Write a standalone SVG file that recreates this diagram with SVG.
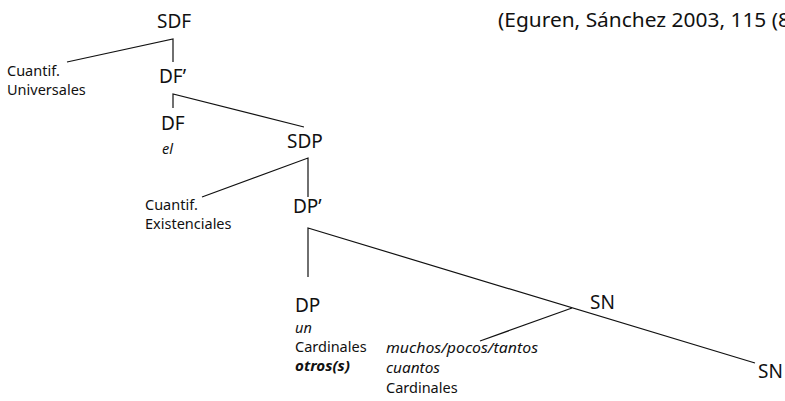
<svg xmlns="http://www.w3.org/2000/svg" width="785" height="401" viewBox="0 0 785 401">
<style>
text{font-family:"Noto Sans","Open Sans","Liberation Sans",sans-serif;fill:#111}
.n{font-size:19px}
.s{font-size:14.5px}
.i{font-style:italic}
.b{font-weight:bold}
.c{font-size:20px}
#edges path{fill:none;stroke:#111;stroke-width:1.2}
</style>
<rect width="785" height="401" fill="#fff"/>
<g id="edges">
<path d="M67 62 L173 39 L173 62"/>
<path d="M173 108 L173 94 L304 127"/>
<path d="M202 197 L308 158 L308 197"/>
<path d="M308 277 L308 228 L755 363"/>
<path d="M480 341 L572 308"/>
</g>
<g id="citation"><text class="c" x="498" y="27" textLength="292" lengthAdjust="spacingAndGlyphs">(Eguren, Sánchez 2003, 115 (8</text></g>
<g id="SDF"><text class="n" x="157" y="28">SDF</text></g>
<g id="univ"><text class="s" x="7" y="76">Cuantif.</text><text class="s" x="7" y="95">Universales</text></g>
<g id="DFbar"><text class="n" x="159" y="83">DF’</text></g>
<g id="DF"><text class="n" x="161" y="130">DF</text><text class="s i" x="162" y="154">el</text></g>
<g id="SDP"><text class="n" x="287" y="148">SDP</text></g>
<g id="exist"><text class="s" x="145" y="210">Cuantif.</text><text class="s" x="145" y="229">Existenciales</text></g>
<g id="DPbar"><text class="n" x="293" y="213">DP’</text></g>
<g id="DP"><text class="n" x="295" y="312">DP</text><text class="s i" x="295" y="333">un</text><text class="s" x="295" y="352">Cardinales</text><text class="s i b" x="295" y="371" textLength="55" lengthAdjust="spacingAndGlyphs">otros(s)</text></g>
<g id="SN"><text class="n" x="590" y="309">SN</text></g>
<g id="SNspec"><text class="s i" x="386" y="353" textLength="152" lengthAdjust="spacingAndGlyphs">muchos/pocos/tantos</text><text class="s i" x="386" y="373" textLength="54" lengthAdjust="spacingAndGlyphs">cuantos</text><text class="s" x="386" y="393">Cardinales</text></g>
<g id="SN2"><text class="n" x="758" y="378">SN</text></g>
</svg>
